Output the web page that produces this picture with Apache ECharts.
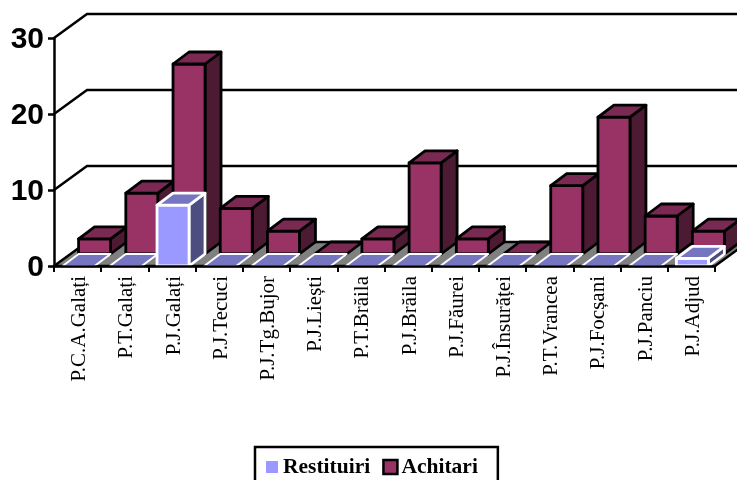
<!DOCTYPE html>
<html>
<head>
<meta charset="utf-8">
<style>html,body{margin:0;padding:0;background:#fff}#c{width:737px;height:480px}</style>
<script src="https://cdn.jsdelivr.net/npm/echarts@6/dist/echarts.min.js"></script>
</head>
<body>
<div id="c"></div>
<script>
const categories = ['P.C.A.Galați','P.T.Galați','P.J.Galați','P.J.Tecuci','P.J.Tg.Bujor','P.J.Liești','P.T.Brăila','P.J.Brăila','P.J.Făurei','P.J.Însurăței','P.T.Vrancea','P.J.Focșani','P.J.Panciu','P.J.Adjud'];
const restituiri = [0,0,8,0,0,0,0,0,0,0,0,0,0,1];
const achitari = [2,8,25,6,3,0,2,12,2,0,9,18,5,3];
const yTicks = [0,10,20,30];

const chart = echarts.init(document.getElementById('c'), null, {renderer:'canvas'});
const DX = 33, DY = 24;           // full floor depth
const BAR_DX = 16, BAR_DY = 12;   // depth of one bar row
const BAR_W = 32, INSET = 8.6;

function wallItem(params, api) {
  const v = api.value(1);
  const band = api.size([1,0])[0];
  const c = api.coord([0, v]);
  const last = api.coord([categories.length-1, v]);
  const x0 = c[0]-band/2, x1 = last[0]+band/2, y = c[1];
  if (v === 0) {
    return {type:'polygon', shape:{points:[[x0,y],[x0+DX,y-DY],[x1+DX,y-DY],[x1,y]]},
      style:{fill:'#808080', stroke:'#000', lineWidth:2.5}};
  }
  return {type:'polyline', shape:{points:[[x0,y],[x0+DX,y-DY],[x1+DX,y-DY]]},
    style:{stroke:'#000', lineWidth:2.5, fill:null}};
}

function barItem(row, colors, stroke, flatWidth) {
  return function(params, api) {
    const i = api.value(0), v = api.value(1);
    const band = api.size([1,0])[0];
    const t = api.coord([i, v]), b = api.coord([i, 0]);
    const off = row*BAR_DX, offY = row*BAR_DY;
    const l = t[0]-band/2+INSET+off, r = l+BAR_W;
    const yT = t[1]-offY, yB = b[1]-offY;
    const s = {stroke:stroke, lineWidth:v > 0 ? 2.8 : flatWidth, lineJoin:'round'};
    const children = [];
    if (v > 0) {
      children.push({type:'polygon', shape:{points:[[r,yT],[r+BAR_DX,yT-BAR_DY],[r+BAR_DX,yB-BAR_DY],[r,yB]]},
        style:Object.assign({fill:colors.side}, s)});
      children.push({type:'polygon', shape:{points:[[l,yB],[r,yB],[r,yT],[l,yT]]},
        style:Object.assign({fill:colors.front}, s)});
    }
    children.push({type:'polygon', shape:{points:[[l,yT],[r,yT],[r+BAR_DX,yT-BAR_DY],[l+BAR_DX,yT-BAR_DY]]},
      style:Object.assign({fill:colors.top}, s)});
    return {type:'group', children:children};
  };
}

const purple = {front:'#993366', top:'#7a2952', side:'#4d1a33'};
const blue = {front:'#9999ff', top:'#7575c0', side:'#4d4d80'};

chart.setOption({
  animation:false,
  backgroundColor:'#fff',
  grid:{left:54, top:38, width:661, height:228, containLabel:false},
  legend:{
    left:255, top:447, orient:'horizontal',
    data:[
      {name:'Restituiri', icon:'rect', itemStyle:{color:'#9999ff', borderColor:'#fff', borderWidth:2}},
      {name:'Achitari', icon:'rect', itemStyle:{color:'#993366', borderColor:'#000', borderWidth:2.5}}
    ],
    itemWidth:14, itemHeight:14, itemGap:12,
    padding:[9,20,14,9],
    borderColor:'#000', borderWidth:2.5, backgroundColor:'#fff',
    selectedMode:false,
    textStyle:{fontFamily:'Liberation Serif', fontWeight:'bold', fontSize:21.5, color:'#000', padding:[0,0,0,-1]}
  },
  xAxis:{
    type:'category', data:categories, boundaryGap:true, z:10,
    axisLine:{show:true, lineStyle:{color:'#000', width:2.5}},
    axisTick:{show:true, length:6, alignWithLabel:false, interval:0, lineStyle:{color:'#000', width:2}},
    axisLabel:{show:true, interval:0, rotate:90, margin:10, verticalAlign:'top', lineHeight:4, fontFamily:'Liberation Serif', fontSize:21, color:'#000', hideOverlap:false},
    splitLine:{show:false}
  },
  yAxis:{
    type:'value', min:0, max:30, interval:10, z:10,
    axisLine:{show:true, lineStyle:{color:'#000', width:2.5}},
    axisTick:{show:true, length:6, lineStyle:{color:'#000', width:2.5}},
    axisLabel:{show:true, margin:10, verticalAlign:'top', lineHeight:4, fontFamily:'Liberation Sans', fontWeight:'bold', fontSize:30, color:'#000'},
    splitLine:{show:false}
  },
  series:[
    {type:'custom', name:'wall', z:1, clip:false, silent:true, renderItem:wallItem,
      data:yTicks.map(v=>[0,v]), encode:{x:0,y:1}},
    {type:'custom', name:'Achitari', z:2, clip:false, renderItem:barItem(1,purple,'#000',2.8),
      itemStyle:{color:'#993366'}, data:achitari.map((v,i)=>[i,v]), encode:{x:0,y:1}},
    {type:'custom', name:'Restituiri', z:3, clip:false, renderItem:barItem(0,blue,'#fff',2),
      itemStyle:{color:'#9999ff'}, data:restituiri.map((v,i)=>[i,v]), encode:{x:0,y:1}}
  ]
});
</script>
</body>
</html>
